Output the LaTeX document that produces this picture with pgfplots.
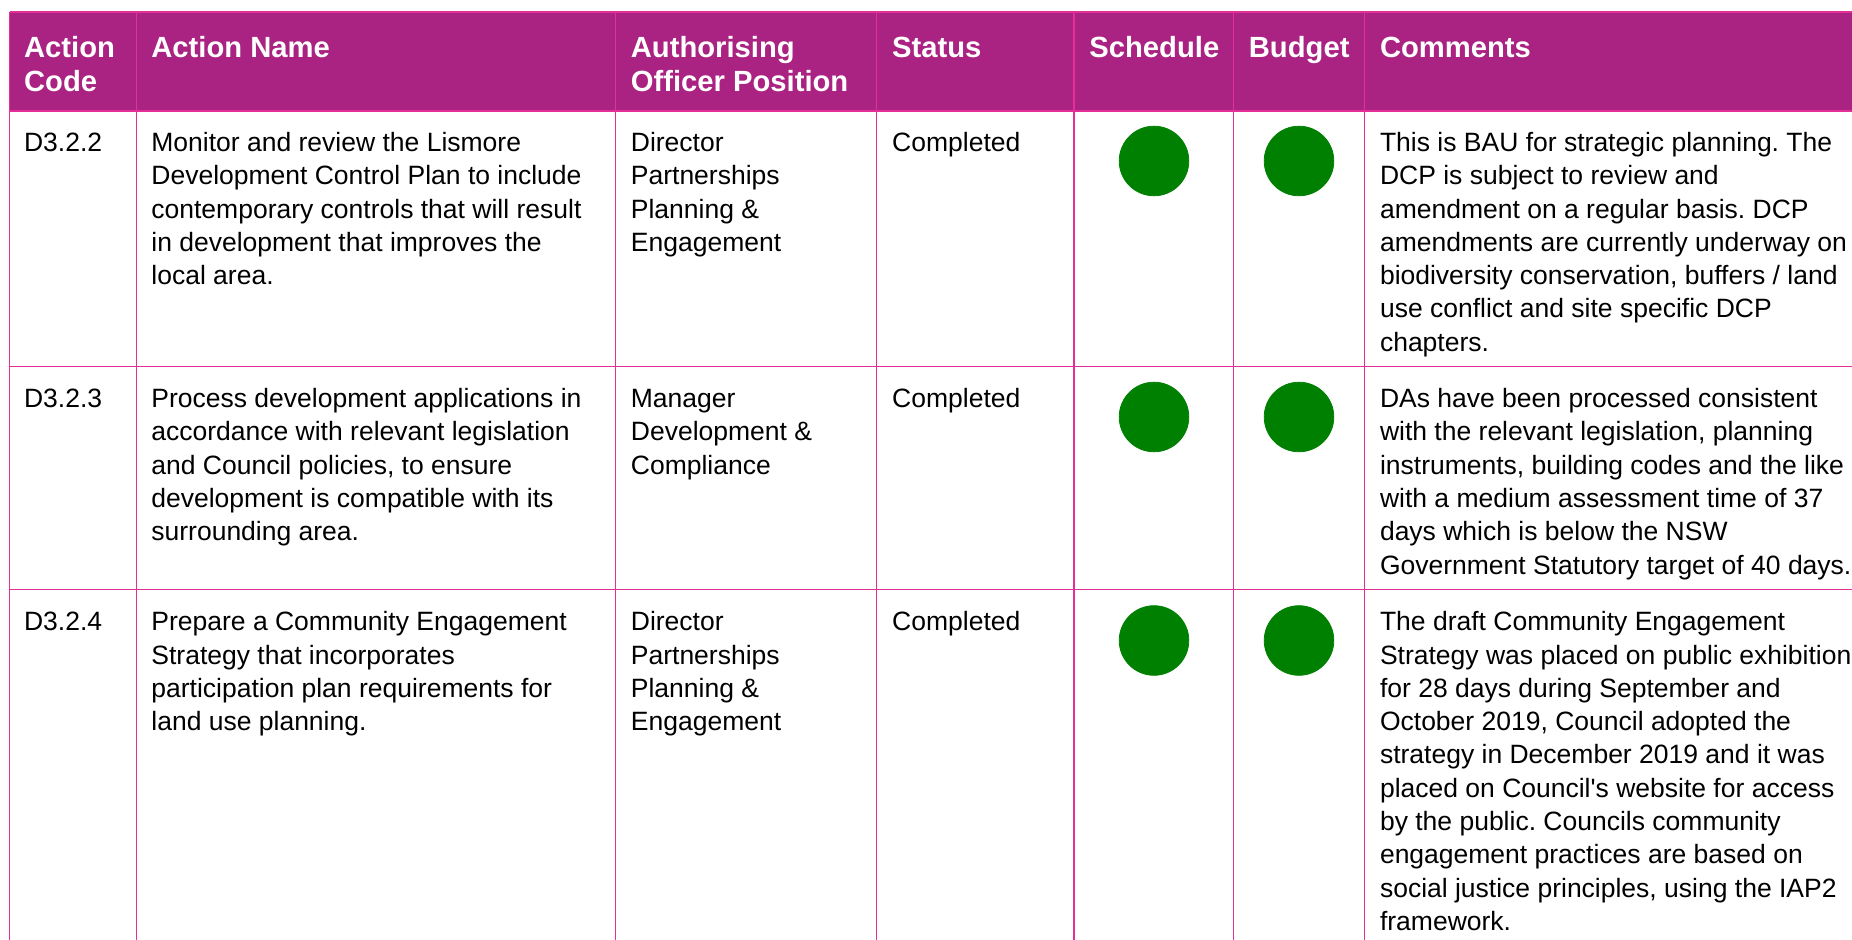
\documentclass[border=0pt]{standalone}
\usepackage{pgfplots}
\pgfplotsset{compat=1.18}
\usepackage{fontspec}
\setmainfont{Liberation Sans}[Ligatures=TeXOff]
\definecolor{hdr}{RGB}{170,34,130}
\definecolor{grid}{RGB}{228,48,150}
\definecolor{okgreen}{RGB}{0,128,0}
\newcommand{\bodyfont}{\fontsize{13.25pt}{16.65pt}\selectfont\frenchspacing}
\newcommand{\hdrfont}{\fontsize{14.6pt}{17.15pt}\selectfont\bfseries}
\newcommand{\tl}[3]{\node[anchor=base west,inner sep=0pt,font=\bodyfont,text=black] at (axis cs:#1,#2) {#3};}
\newcommand{\hl}[3]{\node[anchor=base west,inner sep=0pt,font=\hdrfont,text=white] at (axis cs:#1,#2) {#3};}
\begin{document}
\begin{tikzpicture}
\begin{axis}[
  width=926pt, height=470pt, scale only axis,
  xmin=0, xmax=1852, ymin=0, ymax=940, y dir=reverse,
  hide axis, clip=false,
]
% header background
\fill[hdr] (axis cs:9.5,12) rectangle (axis cs:1860,111);
% grid lines
\draw[grid, line width=0.75pt] (axis cs:9.5,12) -- (axis cs:1860,12);
\draw[grid, line width=0.75pt] (axis cs:9.5,111) -- (axis cs:1860,111);
\draw[grid, line width=0.75pt] (axis cs:9.5,366.5) -- (axis cs:1860,366.5);
\draw[grid, line width=0.75pt] (axis cs:9.5,589.3) -- (axis cs:1860,589.3);
\draw[grid, line width=0.75pt] (axis cs:9.5,12) -- (axis cs:9.5,945);
\draw[grid, line width=0.75pt] (axis cs:136.4,12) -- (axis cs:136.4,945);
\draw[grid, line width=0.75pt] (axis cs:615.7,12) -- (axis cs:615.7,945);
\draw[grid, line width=0.75pt] (axis cs:876.6,12) -- (axis cs:876.6,945);
\draw[grid, line width=0.75pt] (axis cs:1074.2,12) -- (axis cs:1074.2,945);
\draw[grid, line width=0.75pt] (axis cs:1233.3,12) -- (axis cs:1233.3,945);
\draw[grid, line width=0.75pt] (axis cs:1364.5,12) -- (axis cs:1364.5,945);

% status circles (Schedule and Budget)
\addplot[only marks, mark=*, mark size=17.4pt, mark options={fill=okgreen, draw=okgreen}]
  coordinates {(1154,161) (1154,417) (1154,640.5)};
\addplot[only marks, mark=*, mark size=17.4pt, mark options={fill=okgreen, draw=okgreen}]
  coordinates {(1299,161) (1299,417) (1299,640.5)};

% header text
\hl{23.7}{57.3}{Action}
\hl{23.7}{91.6}{Code}
\hl{151}{57.3}{Action Name}
\hl{630.5}{57.3}{Authorising}
\hl{630.5}{91.6}{Officer Position}
\hl{891.8}{57.3}{Status}
\hl{1089}{57.3}{Schedule}
\hl{1248.5}{57.3}{Budget}
\hl{1379.6}{57.3}{Comments}

% row 1
\tl{23.7}{151.5}{D3.2.2}
\tl{151}{151.5}{Monitor and review the Lismore}
\tl{151}{184.8}{Development Control Plan to include}
\tl{151}{218.1}{contemporary controls that will result}
\tl{151}{251.4}{in development that improves the}
\tl{151}{284.7}{local area.}
\tl{630.5}{151.5}{Director}
\tl{630.5}{184.8}{Partnerships}
\tl{630.5}{218.1}{Planning \&}
\tl{630.5}{251.4}{Engagement}
\tl{891.8}{151.5}{Completed}
\tl{1379.6}{151.5}{This is BAU for strategic planning. The}
\tl{1379.6}{184.8}{DCP is subject to review and}
\tl{1379.6}{218.1}{amendment on a regular basis. DCP}
\tl{1379.6}{251.4}{amendments are currently underway on}
\tl{1379.6}{284.7}{biodiversity conservation, buffers / land}
\tl{1379.6}{318.0}{use conflict and site specific DCP}
\tl{1379.6}{351.3}{chapters.}

% row 2
\tl{23.7}{407.7}{D3.2.3}
\tl{151}{407.7}{Process development applications in}
\tl{151}{441.0}{accordance with relevant legislation}
\tl{151}{474.3}{and Council policies, to ensure}
\tl{151}{507.6}{development is compatible with its}
\tl{151}{540.9}{surrounding area.}
\tl{630.5}{407.7}{Manager}
\tl{630.5}{441.0}{Development \&}
\tl{630.5}{474.3}{Compliance}
\tl{891.8}{407.7}{Completed}
\tl{1379.6}{407.7}{DAs have been processed consistent}
\tl{1379.6}{441.0}{with the relevant legislation, planning}
\tl{1379.6}{474.3}{instruments, building codes and the like}
\tl{1379.6}{507.6}{with a medium assessment time of 37}
\tl{1379.6}{540.9}{days which is below the NSW}
\tl{1379.6}{574.2}{Government Statutory target of 40 days.}

% row 3
\tl{23.7}{630.7}{D3.2.4}
\tl{151}{630.7}{Prepare a Community Engagement}
\tl{151}{664.0}{Strategy that incorporates}
\tl{151}{697.3}{participation plan requirements for}
\tl{151}{730.6}{land use planning.}
\tl{630.5}{630.7}{Director}
\tl{630.5}{664.0}{Partnerships}
\tl{630.5}{697.3}{Planning \&}
\tl{630.5}{730.6}{Engagement}
\tl{891.8}{630.7}{Completed}
\tl{1379.6}{630.7}{The draft Community Engagement}
\tl{1379.6}{664.0}{Strategy was placed on public exhibition}
\tl{1379.6}{697.3}{for 28 days during September and}
\tl{1379.6}{730.6}{October 2019, Council adopted the}
\tl{1379.6}{763.9}{strategy in December 2019 and it was}
\tl{1379.6}{797.2}{placed on Council's website for access}
\tl{1379.6}{830.5}{by the public. Councils community}
\tl{1379.6}{863.8}{engagement practices are based on}
\tl{1379.6}{897.1}{social justice principles, using the IAP2}
\tl{1379.6}{930.4}{framework.}
\end{axis}
\pgfresetboundingbox
\path (current axis.south west) rectangle (current axis.north east);
\end{tikzpicture}
\end{document}
